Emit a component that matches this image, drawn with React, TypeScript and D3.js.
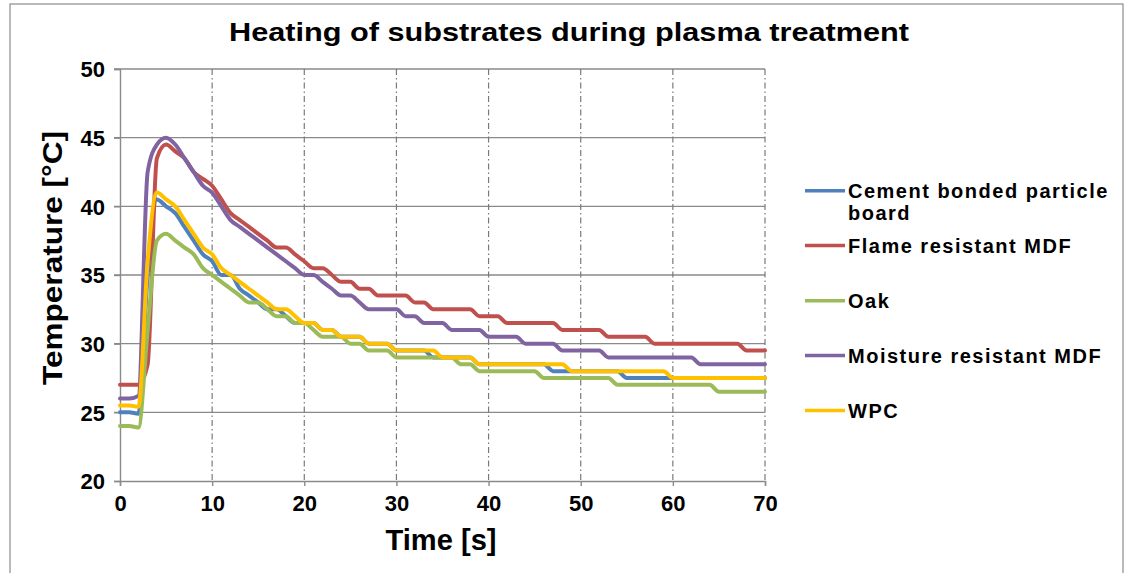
import React, { useEffect, useRef } from "react";
import * as d3 from "d3";

// time in seconds, one reading per second
const time: number[] = Array.from({ length: 71 }, (_, i) => i);

const seriesNames = [
  "Cement bonded particle board",
  "Flame resistant MDF",
  "Oak",
  "Moisture resistant MDF",
  "WPC",
];
const seriesColors = ["#4F81BD", "#C0504D", "#9BBB59", "#8064A2", "#FFC000"];

const cementBoard = [
  25, 25, 24.9, 35, 40.5, 40, 39.5, 38.5, 37.5, 36.5,
  36, 35, 35, 34, 33.5, 33, 32.5, 32.5, 32, 31.5,
  31.5, 31.5, 31, 31, 30.5, 30.5, 30.5, 30, 30, 30,
  29.5, 29.5, 29.5, 29.5, 29, 29, 29, 29, 29, 28.5,
  28.5, 28.5, 28.5, 28.5, 28.5, 28.5, 28.5, 28, 28, 28,
  28, 28, 28, 28, 28, 27.5, 27.5, 27.5, 27.5, 27.5,
  27.5, 27.5, 27.5, 27.5, 27.5, 27.5, 27.5, 27.5, 27.5, 27.5,
  27.5,
];
const flameMdf = [
  27, 27, 27, 28.5, 43.5, 44.5, 44, 43.5, 42.5, 42,
  41.5, 40.5, 39.5, 39, 38.5, 38, 37.5, 37, 37, 36.5,
  36, 35.5, 35.5, 35, 34.5, 34.5, 34, 34, 33.5, 33.5,
  33.5, 33.5, 33, 33, 32.5, 32.5, 32.5, 32.5, 32.5, 32,
  32, 32, 31.5, 31.5, 31.5, 31.5, 31.5, 31.5, 31, 31,
  31, 31, 31, 30.5, 30.5, 30.5, 30.5, 30.5, 30, 30,
  30, 30, 30, 30, 30, 30, 30, 30, 29.5, 29.5,
  29.5,
];
const oak = [
  24, 24, 23.9, 31, 37.5, 38, 37.5, 37, 36.5, 35.5,
  35, 34.5, 34, 33.5, 33, 33, 32.5, 32, 32, 31.5,
  31.5, 31, 30.5, 30.5, 30.5, 30, 30, 29.5, 29.5, 29.5,
  29, 29, 29, 29, 29, 29, 29, 28.5, 28.5, 28,
  28, 28, 28, 28, 28, 28, 27.5, 27.5, 27.5, 27.5,
  27.5, 27.5, 27.5, 27.5, 27, 27, 27, 27, 27, 27,
  27, 27, 27, 27, 27, 26.5, 26.5, 26.5, 26.5, 26.5,
  26.5,
];
const moistureMdf = [
  26, 26, 26.2, 42.5, 44.5, 45, 44.5, 43.5, 42.5, 41.5,
  41, 40, 39, 38.5, 38, 37.5, 37, 36.5, 36, 35.5,
  35, 35, 34.5, 34, 33.5, 33.5, 33, 32.5, 32.5, 32.5,
  32.5, 32, 32, 31.5, 31.5, 31.5, 31, 31, 31, 31,
  30.5, 30.5, 30.5, 30.5, 30, 30, 30, 30, 29.5, 29.5,
  29.5, 29.5, 29.5, 29, 29, 29, 29, 29, 29, 29,
  29, 29, 29, 28.5, 28.5, 28.5, 28.5, 28.5, 28.5, 28.5,
  28.5,
];
const wpc = [
  25.5, 25.5, 25.4, 36, 41, 40.5, 40, 39, 38, 37,
  36.5, 35.5, 35, 34.5, 34, 33.5, 33, 32.5, 32.5, 32,
  31.5, 31.5, 31, 31, 30.5, 30.5, 30.5, 30, 30, 30,
  29.5, 29.5, 29.5, 29.5, 29.5, 29, 29, 29, 29, 28.5,
  28.5, 28.5, 28.5, 28.5, 28.5, 28.5, 28.5, 28.5, 28.5, 28,
  28, 28, 28, 28, 28, 28, 28, 28, 28, 28,
  27.5, 27.5, 27.5, 27.5, 27.5, 27.5, 27.5, 27.5, 27.5, 27.5,
  27.5,
];

const yTicks = [20, 25, 30, 35, 40, 45, 50];
const xTicks = [0, 10, 20, 30, 40, 50, 60, 70];

export default function App() {
  const ref = useRef<SVGSVGElement>(null);

  useEffect(() => {
    const svg = d3.select(ref.current);
    svg.selectAll("*").remove();

    const allSeries = [cementBoard, flameMdf, oak, moistureMdf, wpc];
    const font = "'Liberation Sans', Arial, sans-serif";

    // chart frame
    svg.append("rect")
      .attr("x", 10).attr("y", 4)
      .attr("width", 1113).attr("height", 590)
      .attr("fill", "white")
      .attr("stroke", "#8c8c8c").attr("stroke-width", 1.2);

    const x = d3.scaleLinear().domain([0, 70]).range([120, 765]);
    const y = d3.scaleLinear().domain([20, 50]).range([481, 69]);

    // horizontal gridlines (solid)
    svg.append("g").selectAll("line")
      .data(yTicks.filter(d => d > 20))
      .enter().append("line")
      .attr("x1", x(0) - 6).attr("x2", x(70))
      .attr("y1", d => y(d)).attr("y2", d => y(d))
      .attr("stroke", "#8a8a8a").attr("stroke-width", 1.4);

    // vertical gridlines (dash-dot)
    svg.append("g").selectAll("line")
      .data(xTicks.filter(d => d > 0))
      .enter().append("line")
      .attr("x1", d => x(d)).attr("x2", d => x(d))
      .attr("y1", y(50)).attr("y2", y(20))
      .attr("stroke", "#7a7a7a").attr("stroke-width", 1.2)
      .attr("stroke-dasharray", "6,3,1.5,3");

    // axes
    const yAxis = d3.axisLeft(y).tickValues(yTicks).tickSize(6).tickFormat(d => `${d}`);
    const xAxis = d3.axisBottom(x).tickValues(xTicks).tickSize(5).tickFormat(d => `${d}`);

    const yg = svg.append("g").attr("transform", `translate(${x(0)},0)`).call(yAxis);
    const xg = svg.append("g").attr("transform", `translate(0,${y(20)})`).call(xAxis);

    [yg, xg].forEach(g => {
      g.select(".domain").attr("stroke", "#8a8a8a").attr("stroke-width", 1.4);
      g.selectAll(".tick line").attr("stroke", "#8a8a8a").attr("stroke-width", 1.4);
      g.selectAll("text")
        .attr("font-family", font)
        .attr("font-weight", "bold")
        .attr("font-size", 22)
        .attr("fill", "#000");
    });
    yg.selectAll("text").attr("x", -15).attr("dy", "0.36em");
    xg.selectAll("text").attr("y", 14).attr("dy", "0.71em");

    // series lines
    const line = d3.line<number>()
      .x((_, i) => x(time[i]))
      .y(d => y(d))
      .curve(d3.curveMonotoneX);

    svg.append("g").selectAll("path")
      .data(allSeries)
      .enter().append("path")
      .attr("d", d => line(d))
      .attr("fill", "none")
      .attr("stroke", (_, i) => seriesColors[i])
      .attr("stroke-width", 4)
      .attr("stroke-linejoin", "round")
      .attr("stroke-linecap", "round");

    // title
    svg.append("text")
      .attr("x", 569).attr("y", 41)
      .attr("text-anchor", "middle")
      .attr("font-family", font).attr("font-weight", "bold")
      .attr("font-size", 26)
      .attr("textLength", 680).attr("lengthAdjust", "spacingAndGlyphs")
      .text("Heating of substrates during plasma treatment");

    // axis titles
    svg.append("text")
      .attr("transform", "translate(62,258) rotate(-90)")
      .attr("text-anchor", "middle")
      .attr("font-family", font).attr("font-weight", "bold")
      .attr("font-size", 28)
      .attr("textLength", 254).attr("lengthAdjust", "spacingAndGlyphs")
      .text("Temperature [°C]");

    svg.append("text")
      .attr("x", 441).attr("y", 550)
      .attr("text-anchor", "middle")
      .attr("font-family", font).attr("font-weight", "bold")
      .attr("font-size", 29)
      .attr("textLength", 111).attr("lengthAdjust", "spacingAndGlyphs")
      .text("Time [s]");

    // legend
    const legendY = [190.7, 245.5, 300.7, 355.5, 410.5];
    const legend = svg.append("g");
    seriesNames.forEach((name, i) => {
      const g = legend.append("g").attr("transform", `translate(0,${legendY[i]})`);
      g.append("line")
        .attr("x1", 805).attr("x2", 845)
        .attr("y1", 0).attr("y2", 0)
        .attr("stroke", seriesColors[i]).attr("stroke-width", 3.6);
      const lines = name === "Cement bonded particle board"
        ? ["Cement bonded particle", "board"]
        : [name];
      lines.forEach((t, j) => {
        g.append("text")
          .attr("x", 848).attr("y", 7 + j * 22.5)
          .attr("font-family", font).attr("font-weight", "bold")
          .attr("font-size", 20)
          .attr("letter-spacing", 1.5)
          .text(t);
      });
    });
  }, []);

  return (
    <svg
      ref={ref}
      width={1134}
      height={573}
      style={{ position: "absolute", left: 0, top: 0, background: "white" }}
    />
  );
}
